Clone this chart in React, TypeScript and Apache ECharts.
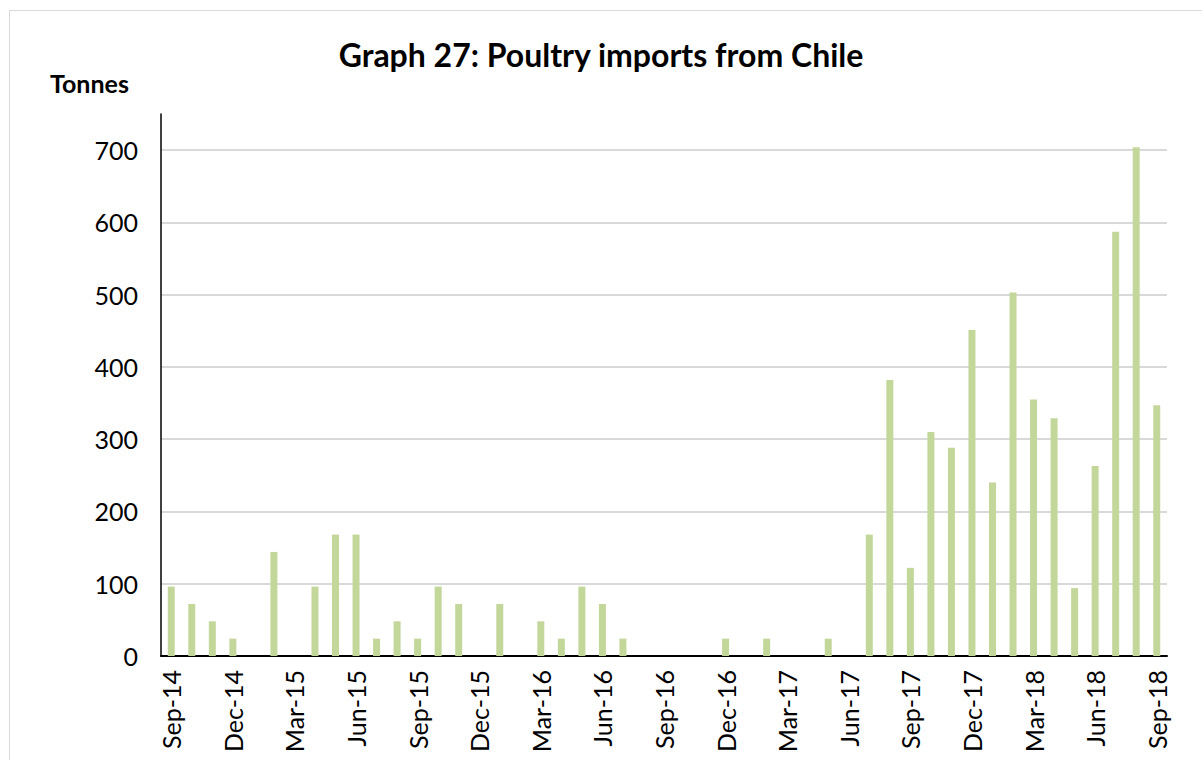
import React, { useEffect, useRef } from "react";
import * as echarts from "echarts";

const months = [
  "Sep-14","Oct-14","Nov-14","Dec-14","Jan-15","Feb-15","Mar-15","Apr-15","May-15","Jun-15","Jul-15","Aug-15",
  "Sep-15","Oct-15","Nov-15","Dec-15","Jan-16","Feb-16","Mar-16","Apr-16","May-16","Jun-16","Jul-16","Aug-16",
  "Sep-16","Oct-16","Nov-16","Dec-16","Jan-17","Feb-17","Mar-17","Apr-17","May-17","Jun-17","Jul-17","Aug-17",
  "Sep-17","Oct-17","Nov-17","Dec-17","Jan-18","Feb-18","Mar-18","Apr-18","May-18","Jun-18","Jul-18","Aug-18",
  "Sep-18",
];

const tonnes = [
  96, 72, 48, 24, 0, 144, 0, 96, 168, 168, 24, 48,
  24, 96, 72, 0, 72, 0, 48, 24, 96, 72, 24, 0,
  0, 0, 0, 24, 0, 24, 0, 0, 24, 0, 168, 382,
  122, 310, 288, 451, 240, 503, 355, 329, 94, 263, 587, 704,
  347,
];

const yTicks = [0, 100, 200, 300, 400, 500, 600, 700];

const titleText = "Graph 27: Poultry imports from Chile";
const unitText = "Tonnes";

export default function App() {
  const ref = useRef<HTMLDivElement>(null);
  useEffect(() => {
    if (!ref.current) return;
    const chart = echarts.init(ref.current, null, { renderer: "svg" });
    const font = "Lato, 'Open Sans', sans-serif";
    chart.setOption({
      animation: false,
      backgroundColor: "#ffffff",
      textStyle: { fontFamily: font },
      title: {
        text: titleText,
        left: "center",
        top: 33,
        textStyle: { fontSize: 32, fontWeight: "bold", color: "#000", fontFamily: font },
      },
      graphic: [
        {
          type: "rect",
          shape: { x: 9.5, y: 10.5, width: 1200, height: 760 },
          style: { fill: "none", stroke: "#d9d9d9", lineWidth: 1 },
          silent: true,
          z: -10,
        },
        {
          type: "text",
          left: 50,
          top: 70,
          style: { text: unitText, fontSize: 25, fontWeight: "bold", fill: "#000", fontFamily: font },
        },
      ],
      grid: { left: 161, right: 35, top: 114, bottom: 104, containLabel: false },
      xAxis: {
        type: "category",
        data: months,
        boundaryGap: true,
        axisLine: { show: true, lineStyle: { color: "#000", width: 2 } },
        axisTick: { show: false },
        axisLabel: {
          interval: 2,
          rotate: 90,
          fontSize: 25,
          color: "#000",
          margin: 14,
          fontFamily: font,
        },
        splitLine: { show: false },
      },
      yAxis: {
        type: "value",
        min: 0,
        max: 750,
        interval: 100,
        axisLine: { show: true, lineStyle: { color: "#000", width: 1.5 } },
        axisTick: { show: false },
        axisLabel: {
          fontSize: 25,
          color: "#000",
          margin: 23,
          showMaxLabel: false,
          fontFamily: font,
          formatter: (v: number) => (yTicks.includes(v) ? String(v) : ""),
        },
        splitLine: { show: true, showMaxLine: false, lineStyle: { color: "#d9d9d9", width: 2 } },
      },
      series: [
        {
          type: "bar",
          data: tonnes,
          barWidth: 7,
          itemStyle: { color: "#c4d79b" },
        },
      ],
    });
    return () => chart.dispose();
  }, []);
  return (
    <div
      ref={ref}
      style={{ position: "absolute", left: 0, top: 0, width: 1202, height: 760 }}
    />
  );
}
